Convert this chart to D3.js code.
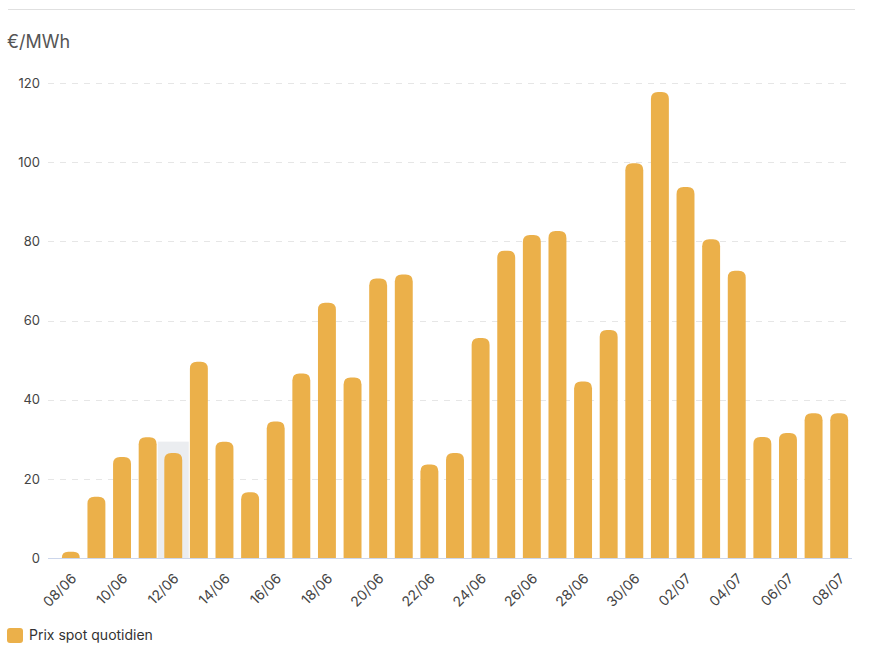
<!DOCTYPE html>
<html>
<head>
<meta charset="utf-8">
<script src="https://cdn.jsdelivr.net/npm/d3@7"></script>
<style>
  html, body { margin: 0; padding: 0; background: #fff; }
  svg { display: block; font-family: Inter, "Noto Sans", sans-serif; }
</style>
</head>
<body>
<svg id="chart" width="871" height="654"></svg>
<script>
const dates = ["08/06","09/06","10/06","11/06","12/06","13/06","14/06","15/06","16/06","17/06",
  "18/06","19/06","20/06","21/06","22/06","23/06","24/06","25/06","26/06","27/06",
  "28/06","29/06","30/06","01/07","02/07","03/07","04/07","05/07","06/07","07/07","08/07"];
const prices = [1.6, 15.5, 25.5, 30.5, 26.5, 49.6, 29.4, 16.6, 34.5, 46.6,
  64.5, 45.6, 70.6, 71.6, 23.6, 26.5, 55.6, 77.6, 81.6, 82.6,
  44.6, 57.6, 99.7, 117.7, 93.7, 80.5, 72.6, 30.6, 31.6, 36.6, 36.6];
const yTicks = [0, 20, 40, 60, 80, 100, 120];
const xTickLabels = dates.filter((d, i) => i % 2 === 0);
const unitLabel = "€/MWh";
const seriesName = "Prix spot quotidien";
const highlightDate = "12/06";
const highlightValue = 29.4;

const svg = d3.select("#chart");
const barColor = "#ebb04a";

// top separator line
svg.append("line").attr("x1", 8).attr("x2", 855).attr("y1", 9.5).attr("y2", 9.5)
  .attr("stroke", "#e0e0e0").attr("stroke-width", 1);

svg.append("text").attr("x", 7).attr("y", 48).text(unitLabel)
  .attr("font-size", 18).attr("fill", "#555");

const x = d3.scaleBand().domain(dates).range([58, 852]).paddingInner(0.3).paddingOuter(0.15);
const y = d3.scaleLinear().domain([0, 120]).range([558, 83]);

// grid lines
svg.append("g").selectAll("line").data(yTicks.filter(t => t !== 0)).join("line")
  .attr("x1", 48).attr("x2", 852)
  .attr("y1", d => Math.round(y(d)) + 0.5).attr("y2", d => Math.round(y(d)) + 0.5)
  .attr("stroke", "#e6e6e6").attr("stroke-dasharray", "6,6");

// y axis labels
const yAxis = d3.axisLeft(y).tickValues(yTicks).tickSize(0).tickPadding(0);
const gy = svg.append("g").attr("transform", "translate(40,0)").call(yAxis);
gy.select(".domain").remove();
gy.selectAll("text").attr("font-size", 13).attr("fill", "#444")
  .attr("font-family", "Inter, sans-serif");

// highlight band
const hx = x(highlightDate) + x.bandwidth() / 2;
svg.append("rect").attr("x", hx - 15.5).attr("width", 31)
  .attr("y", y(highlightValue)).attr("height", y(0) - y(highlightValue))
  .attr("fill", "#ebedf0");

// bars with rounded tops
function barPath(d, i) {
  const x0 = x(dates[i]), w = x.bandwidth();
  const top = y(d), bot = y(0);
  const h = bot - top;
  const r = Math.min(7, h, w / 2);
  return `M${x0},${bot}V${top + r}Q${x0},${top} ${x0 + r},${top}H${x0 + w - r}Q${x0 + w},${top} ${x0 + w},${top + r}V${bot}Z`;
}
svg.append("g").selectAll("path").data(prices).join("path")
  .attr("d", (d, i) => barPath(d, i)).attr("fill", barColor);

// zero axis line
svg.append("line").attr("x1", 48).attr("x2", 852)
  .attr("y1", y(0) + 0.5).attr("y2", y(0) + 0.5).attr("stroke", "#ccd6eb");

// x axis labels
const xAxis = d3.axisBottom(x).tickValues(xTickLabels).tickSize(0).tickPadding(0);
const gx = svg.append("g").attr("transform", `translate(0,${y(0)})`).call(xAxis);
gx.select(".domain").remove();
gx.selectAll("text").attr("font-size", 14).attr("fill", "#444")
  .attr("font-family", "Inter, sans-serif")
  .attr("text-anchor", "end").attr("dy", "0.35em")
  .attr("transform", "translate(3,18) rotate(-45)");

// legend
svg.append("rect").attr("x", 7).attr("y", 628).attr("width", 16).attr("height", 15)
  .attr("rx", 3).attr("fill", barColor);
svg.append("text").attr("x", 29).attr("y", 640).text(seriesName)
  .attr("font-size", 14).attr("fill", "#333");
</script>
</body>
</html>
